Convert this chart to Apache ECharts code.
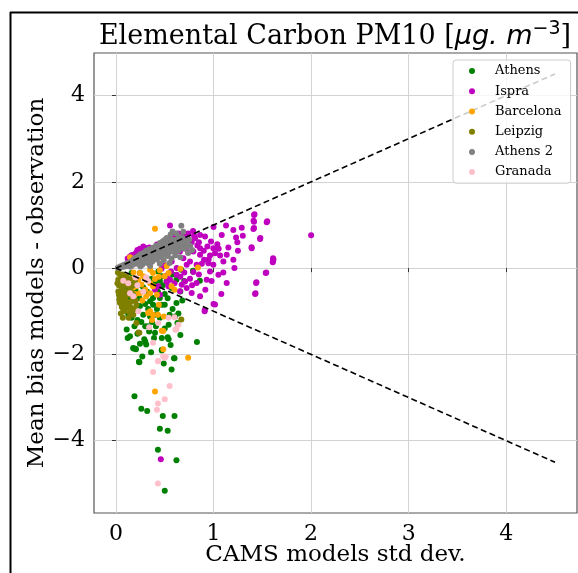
<!DOCTYPE html>
<html><head><meta charset="utf-8">
<script src="https://cdn.jsdelivr.net/npm/echarts@6/dist/echarts.min.js"></script>
<style>html,body{margin:0;padding:0;background:#fff}#c{width:578px;height:573px}</style>
</head><body><div id="c"></div>
<script>
const seriesNames = ['Athens','Ispra','Barcelona','Leipzig','Athens 2','Granada'];
const seriesColors = ['#008000','#bf00bf','#ffa500','#808000','#808080','#ffc0cb'];
const xTicks = [0,1,2,3,4];
const yTicks = [-4,-2,0,2,4];
const refUpper = [[0,0],[4.5,4.5]];
const refLower = [[0,0],[4.5,-4.5]];

const athens = [[0.048,-0.23],[0.075,-0.31],[0.16,-0.115],[0.246,-0.115],[0.434,-0.077],[0.47,-0.19],[0.45,-0.29],[0.40,-0.35],[0.79,-0.077],[0.67,-0.04],[0.62,-0.27],[0.57,-0.46],[0.66,-0.54],[0.62,-0.81],[0.50,-0.60],[0.45,-0.69],[0.38,-0.69],[0.35,-0.77],[0.30,-0.83],[0.246,-0.88],[0.178,-0.96],[0.126,-1.08],[0.16,-1.15],[0.28,-1.08],[0.35,-1.12],[0.40,-1.08],[0.47,-0.85],[0.50,-0.85],[0.55,-1.08],[0.605,-1.12],[0.63,-1.27],[0.54,-1.31],[0.45,-1.15],[0.33,-1.35],[0.30,-1.35],[0.11,-1.42],[0.12,-1.62],[0.22,-1.52],[0.29,-1.65],[0.39,-1.62],[0.47,-1.62],[0.54,-1.65],[0.18,-1.86],[0.205,-1.88],[0.31,-1.77],[0.47,-1.91],[0.595,-2.09],[0.24,-2.18],[0.83,-1.71],[0.79,-0.06],[0.86,-0.29],[0.34,-1.47],[0.40,-1.50],[0.144,-1.58],[0.30,-1.70],[0.246,-1.75],[0.177,-1.85],[0.20,-1.87],[0.53,-1.60],[0.56,-1.78],[0.47,-1.89],[0.235,-2.17],[0.49,-2.21],[0.60,-2.09],[0.57,-2.35],[0.19,-2.97],[0.26,-3.26],[0.32,-3.31],[0.48,-3.43],[0.60,-3.43],[0.45,-3.72],[0.53,-3.77],[0.43,-4.21],[0.62,-4.45],[0.50,-5.16],[0.10,-0.45],[0.14,-0.70],[0.20,-0.50],[0.26,-0.40],[0.32,-0.55],[0.36,-0.25],[0.52,-0.30],[0.58,-0.15],[0.70,-0.30],[0.42,-0.95],[0.37,-1.25],[0.22,-1.20],[0.15,-0.30],[0.08,-0.55],[0.12,-0.75],[0.18,-0.60],[0.24,-0.70],[0.28,-0.45],[0.33,-0.95],[0.38,-0.85],[0.43,-0.55],[0.48,-0.40],[0.53,-0.70],[0.58,-0.95],[0.64,-1.05],[0.68,-0.75],[0.26,-1.25],[0.19,-1.35],[0.41,-1.35],[0.50,-1.40],[0.36,-1.95],[0.27,-2.05],[0.66,-1.55]];

const ispra = [[1.415,1.077],[1.415,1.23],[1.545,1.06],[1.128,0.985],[1.203,0.885],[1.289,0.938],[1.409,0.908],[1.231,0.708],[1.244,0.6],[1.477,0.677],[1.391,0.462],[1.152,0.477],[1.039,0.554],[0.974,0.615],[0.937,0.5],[0.998,0.462],[1.053,0.446],[1.015,0.346],[0.964,0.292],[1.067,0.292],[0.862,0.308],[0.903,0.192],[0.947,0.115],[1.203,0.192],[1.214,0.0],[1.614,0.208],[1.607,0.138],[1.535,-0.115],[1.05,-0.154],[1.135,-0.346],[0.93,-0.27],[0.916,-0.5],[0.776,-0.577],[0.862,-0.654],[1.015,-0.846],[0.909,-1.0],[1.436,-0.346],[1.426,-0.6],[0.708,-0.308],[0.674,-0.385],[0.554,-0.27],[0.537,-0.423],[0.451,-0.615],[0.656,-0.538],[0.725,-0.462],[0.759,-0.246],[0.793,-0.092],[0.827,0.077],[0.759,0.154],[0.691,0.231],[0.656,0.385],[0.622,0.538],[0.588,0.677],[0.554,0.6],[0.503,0.462],[0.451,0.423],[0.383,0.369],[0.315,0.462],[0.28,0.5],[0.246,0.446],[0.212,0.369],[0.178,0.308],[0.144,0.269],[0.776,0.6],[0.732,0.731],[0.697,0.808],[0.656,0.654],[0.81,0.692],[0.834,0.523],[0.862,0.462],[0.742,0.369],[0.708,0.462],[0.571,0.154],[0.503,0.062],[0.468,-0.015],[0.52,-0.169],[0.564,-0.077],[1.084,0.769],[0.998,0.077],[0.964,-0.077],[0.725,0.077],[0.622,0.0],[0.622,-0.154],[0.862,0.769],[0.913,0.731],[0.793,0.385],[1.135,0.308],[1.101,0.154],[0.827,-0.346],[0.52,-0.308],[0.434,-0.423],[0.4,-0.5],[1.42,1.25],[1.41,1.10],[1.55,1.085],[1.415,0.93],[1.48,0.70],[1.39,0.485],[1.61,0.23],[1.61,0.16],[2.0,0.76],[1.54,-0.1],[1.44,-0.33],[1.43,-0.58],[1.08,-0.6],[1.0,-0.83],[0.91,-0.97],[0.46,-4.43],[0.554,0.99],[0.79,0.86],[0.12,0.22],[0.16,0.30],[0.20,0.33],[0.22,0.42],[0.26,0.38],[0.30,0.43],[0.34,0.48],[0.36,0.42],[0.40,0.45],[0.42,0.55],[0.47,0.48],[0.50,0.55],[0.55,0.68],[0.60,0.75],[0.64,0.80],[0.70,0.72],[0.74,0.80],[0.80,0.75],[0.85,0.60],[0.90,0.40],[0.95,0.20],[0.88,0.10],[0.70,-0.10],[0.66,-0.20],[0.60,-0.35],[0.78,-0.40],[0.85,-0.15],[0.98,-0.30],[1.10,-0.10],[1.25,0.40],[1.30,0.75],[1.00,0.95]];

const barcelona = [[0.40,0.91],[0.144,0.25],[0.84,0.015],[0.66,-0.015],[0.35,-0.04],[0.38,-0.115],[0.246,-0.115],[0.28,-0.19],[0.23,-0.27],[0.31,-0.27],[0.35,-0.35],[0.26,-0.38],[0.21,-0.42],[0.30,-0.50],[0.246,-0.58],[0.35,-0.58],[0.38,-0.42],[0.54,-0.115],[0.50,-0.19],[0.57,-0.42],[0.42,-0.62],[0.31,-0.65],[0.33,-1.04],[0.38,-1.08],[0.43,-1.08],[0.49,-1.12],[0.35,-1.00],[0.485,-1.46],[0.485,-1.88],[0.74,-2.08],[0.178,-0.45],[0.47,-1.45],[0.40,-2.86],[0.44,-0.20],[0.18,-0.10],[0.15,-0.25],[0.20,-0.60],[0.27,-0.75],[0.40,-0.25],[0.45,-0.05],[0.52,0.05],[0.60,-0.50],[0.44,-0.85],[0.37,-1.20]];

const leipzig = [[0.024,-0.27],[0.041,-0.38],[0.058,-0.46],[0.024,-0.54],[0.075,-0.58],[0.041,-0.65],[0.092,-0.69],[0.11,-0.78],[0.058,-0.85],[0.126,-0.92],[0.16,-0.77],[0.178,-0.62],[0.144,-0.5],[0.092,-0.35],[0.034,-0.73],[0.075,-0.96],[0.144,-1.04],[0.178,-1.08],[0.21,-1.27],[0.24,-1.5],[0.67,-1.19],[0.041,-0.15],[0.11,-0.23],[0.16,-0.42],[0.195,-0.31],[0.126,-0.62],[0.21,-0.85],[0.075,-0.77],[0.23,-1.49],[0.02,-0.10],[0.03,-0.40],[0.05,-0.60],[0.08,-0.50],[0.10,-0.62],[0.12,-0.40],[0.13,-0.80],[0.06,-0.90],[0.09,-1.00],[0.15,-0.90],[0.04,-0.80],[0.11,-0.20],[0.07,-0.15],[0.17,-0.70],[0.19,-0.95],[0.015,-0.35],[0.05,-0.30],[0.08,-0.25],[0.03,-0.62],[0.065,-0.70],[0.10,-0.85],[0.12,-0.55],[0.14,-0.25],[0.09,-0.40],[0.05,-1.05],[0.13,-1.15],[0.16,-1.00],[0.20,-0.75],[0.07,-1.15],[0.18,-0.40]];

const athens2 = [[0.02,0.01],[0.04,0.03],[0.05,0.02],[0.06,0.05],[0.07,0.03],[0.08,0.07],[0.09,0.04],[0.10,0.09],[0.11,0.06],[0.12,0.11],[0.13,0.05],[0.14,0.13],[0.15,0.09],[0.16,0.16],[0.17,0.07],[0.18,0.20],[0.19,0.12],[0.20,0.24],[0.21,0.10],[0.22,0.18],[0.23,0.28],[0.24,0.14],[0.25,0.32],[0.26,0.22],[0.27,0.08],[0.28,0.35],[0.29,0.19],[0.30,0.27],[0.31,0.40],[0.32,0.12],[0.33,0.31],[0.34,0.44],[0.35,0.22],[0.36,0.36],[0.37,0.15],[0.38,0.47],[0.39,0.28],[0.40,0.39],[0.41,0.52],[0.42,0.20],[0.43,0.33],[0.44,0.45],[0.45,0.58],[0.46,0.26],[0.47,0.40],[0.48,0.62],[0.49,0.18],[0.50,0.50],[0.51,0.35],[0.52,0.70],[0.53,0.28],[0.54,0.57],[0.55,0.44],[0.56,0.78],[0.57,0.22],[0.58,0.52],[0.59,0.38],[0.60,0.65],[0.61,0.30],[0.62,0.48],[0.63,0.58],[0.64,0.40],[0.65,0.72],[0.66,0.25],[0.67,0.98],[0.68,0.55],[0.69,0.84],[0.70,0.45],[0.72,0.62],[0.74,0.35],[0.76,0.52],[0.78,0.42],[0.35,0.05],[0.45,0.10],[0.55,0.12],[0.25,0.04],[0.15,0.03],[0.30,0.33],[0.38,0.24],[0.50,0.42],[0.58,0.60],[0.62,0.66],[0.44,0.30],[0.52,0.47],[0.40,0.34],[0.48,0.38],[0.36,0.30],[0.28,0.25],[0.22,0.21],[0.34,0.18],[0.46,0.50],[0.54,0.36],[0.05,0.04],[0.09,0.08],[0.13,0.10],[0.17,0.14],[0.21,0.15],[0.24,0.22],[0.27,0.17],[0.31,0.24],[0.33,0.38],[0.37,0.40],[0.39,0.20],[0.42,0.42],[0.43,0.25],[0.47,0.55],[0.49,0.31],[0.51,0.60],[0.53,0.42],[0.56,0.50],[0.57,0.66],[0.60,0.40],[0.61,0.55],[0.64,0.62],[0.66,0.48],[0.68,0.70],[0.70,0.60],[0.73,0.50],[0.75,0.66],[0.62,0.80],[0.58,0.85],[0.50,0.65]];

const granada = [[0.144,-0.58],[0.178,-0.65],[0.126,-0.35],[0.23,-1.00],[0.434,-1.27],[0.34,-1.37],[0.54,-1.15],[0.615,-1.42],[0.64,-1.31],[0.38,-1.73],[0.485,-2.04],[0.50,-2.08],[0.434,-2.15],[0.075,-0.29],[0.31,-0.21],[0.60,-1.14],[0.62,-1.41],[0.61,-1.43],[0.51,-2.05],[0.43,-2.16],[0.38,-2.41],[0.55,-2.73],[0.50,-3.04],[0.43,-3.14],[0.42,-3.28],[0.43,-4.99],[0.22,-0.40],[0.28,-0.55],[0.20,-0.22],[0.33,-0.30]];

const seriesData = [athens, ispra, barcelona, leipzig, athens2, granada];
const FONT = 'DejaVu Serif';

const chart = echarts.init(document.getElementById('c'), null, {renderer:'canvas'});
const scatterSeries = seriesNames.map((n,i)=>({
  name:n, type:'scatter', data:seriesData[i], symbolSize:6,
  itemStyle:{color:seriesColors[i], opacity:1}, z:2
}));
const lineStyle = {color:'#000', width:1.6, type:[6,3.5]};
const refSeries = [
  {name:'ref1', type:'line', data:refUpper, symbol:'none', lineStyle, z:3, silent:true},
  {name:'ref2', type:'line', data:refLower, symbol:'none', lineStyle, z:3, silent:true}
];
chart.setOption({
  animation:false,
  backgroundColor:'#fff',
  title:{
    text:'{a|Elemental Carbon PM10 [}{b|μg. m}{c|−3}{a|]}',
    left:330, top:15, textAlign:'center',
    textStyle:{fontWeight:'normal', rich:{
      a:{fontFamily:FONT, fontSize:27, fontWeight:'normal', color:'#000'},
      b:{fontFamily:'DejaVu Sans', fontStyle:'italic', fontWeight:'normal', fontSize:27, color:'#000'},
      c:{fontFamily:'DejaVu Sans', fontWeight:'normal', fontSize:19, color:'#000', padding:[0,0,14,0]}
    }}
  },
  grid:{left:94, top:53, right:1, bottom:60, show:true, borderColor:'#555', borderWidth:1.2, backgroundColor:'transparent'},
  legend:{
    data:seriesNames, orient:'vertical', left:453, top:60,
    itemWidth:6, itemHeight:6, itemGap:4, icon:'circle',
    padding:[3,9,3,16], backgroundColor:'rgba(255,255,255,0.8)', borderColor:'#cccccc', borderWidth:1, borderRadius:3,
    textStyle:{fontFamily:FONT, fontSize:13, color:'#000', lineHeight:16.2, padding:[0,0,0,15]},
    selectedMode:false
  },
  xAxis:{
    type:'value', min:-0.225, max:4.725,
    name:'CAMS models std dev.', nameLocation:'middle', nameGap:31, nameMoveOverlap:false,
    nameTextStyle:{fontFamily:FONT, fontSize:23, color:'#000'},
    axisLine:{show:false},
    axisTick:{show:true, length:4, customValues:xTicks, lineStyle:{color:'#333'}},
    axisLabel:{customValues:xTicks, fontFamily:FONT, fontSize:22, color:'#000', margin:10},
    splitLine:{show:true, lineStyle:{color:'#d3d3d3', width:1}}
  },
  yAxis:{
    type:'value', min:-5.675, max:4.985,
    name:'Mean bias models - observation', nameLocation:'middle', nameGap:45, nameRotate:90, nameMoveOverlap:false,
    nameTextStyle:{fontFamily:FONT, fontSize:23, color:'#000'},
    axisLine:{show:false},
    axisTick:{show:true, length:4, customValues:yTicks, lineStyle:{color:'#333'}},
    axisLabel:{customValues:yTicks, fontFamily:FONT, fontSize:22, color:'#000', margin:9,
      formatter:v=>String(v).replace('-','−')},
    splitLine:{show:true, lineStyle:{color:'#d3d3d3', width:1}}
  },
  graphic:[
    {type:'line', shape:{x1:10.5,y1:12,x2:10.5,y2:573}, style:{stroke:'#000', lineWidth:2}, z:10},
    {type:'line', shape:{x1:10,y1:12.5,x2:578,y2:12.5}, style:{stroke:'#000', lineWidth:2}, z:10}
  ],
  series:[...scatterSeries, ...refSeries]
});
</script></body></html>
